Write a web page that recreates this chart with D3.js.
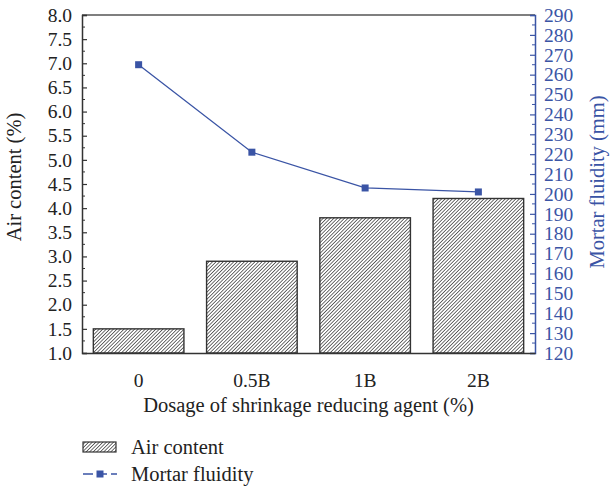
<!DOCTYPE html>
<html>
<head>
<meta charset="utf-8">
<script src="https://cdn.jsdelivr.net/npm/d3@7"></script>
<style>
  html, body { margin: 0; padding: 0; background: #fff; }
  svg text { font-family: "Liberation Serif", "DejaVu Serif", serif; }
</style>
</head>
<body>
<svg id="chart" width="615" height="489"></svg>
<script>
// Dosage categories and the two measured series
const categories = ["0", "0.5B", "1B", "2B"];
const airContent = [1.5, 2.9, 3.8, 4.2];        // %
const mortarFluidity = [265, 221, 203, 201];    // mm

const leftTicks = [1.0, 1.5, 2.0, 2.5, 3.0, 3.5, 4.0, 4.5, 5.0, 5.5, 6.0, 6.5, 7.0, 7.5, 8.0];
const rightTicks = d3.range(120, 291, 10);

const blue = "#3a54a5";
const dark = "#333";
const tickFont = 19.5;
const titleFont = 20.5;

const svg = d3.select("#chart");
const margin = { left: 82, right: 80, top: 15, bottom: 136 };
const W = 615, H = 489;
const x0 = margin.left, x1 = W - margin.right, y0 = H - margin.bottom, y1 = margin.top;

const x = d3.scaleBand().domain(categories).range([x0, x1]).paddingInner(0.2).paddingOuter(0.1);
const yL = d3.scaleLinear().domain([1, 8]).range([y0, y1]);
const yR = d3.scaleLinear().domain([120, 290]).range([y0, y1]);

// Hatch pattern for the bars
const defs = svg.append("defs");
const pat = defs.append("pattern")
  .attr("id", "hatch").attr("patternUnits", "userSpaceOnUse")
  .attr("width", 2.5).attr("height", 2.5)
  .attr("patternTransform", "rotate(45)");
pat.append("rect").attr("width", 2.5).attr("height", 2.5).attr("fill", "#fff");
pat.append("line").attr("x1", 0).attr("y1", 0).attr("x2", 0).attr("y2", 2.5)
  .attr("stroke", "#222").attr("stroke-width", 1.3);

// Bars
svg.append("g").selectAll("rect").data(categories).join("rect")
  .attr("x", d => x(d))
  .attr("width", x.bandwidth())
  .attr("y", (d, i) => yL(airContent[i]))
  .attr("height", (d, i) => y0 - yL(airContent[i]))
  .attr("fill", "url(#hatch)")
  .attr("stroke", dark).attr("stroke-width", 1.4);

// Top frame line
svg.append("line").attr("x1", x0).attr("x2", x1).attr("y1", y1).attr("y2", y1)
  .attr("stroke", "#555").attr("stroke-width", 1.5);

// Left axis (ticks inside)
const leftAxis = d3.axisLeft(yL).tickValues(leftTicks).tickFormat(d3.format(".1f")).tickSize(-5).tickPadding(10);
const gL = svg.append("g").attr("transform", `translate(${x0},0)`).call(leftAxis);
gL.select(".domain").attr("stroke", dark).attr("stroke-width", 1.5);
gL.selectAll(".tick line").attr("stroke", dark).attr("stroke-width", 1.2);
gL.selectAll(".tick text").attr("font-size", tickFont).attr("fill", "#222");
// minor ticks
svg.append("g").selectAll("line").data(d3.range(1.25, 8, 0.5)).join("line")
  .attr("x1", x0).attr("x2", x0 + 3).attr("y1", d => yL(d)).attr("y2", d => yL(d))
  .attr("stroke", dark).attr("stroke-width", 1);

// Right axis (ticks inside)
const rightAxis = d3.axisRight(yR).tickValues(rightTicks).tickSize(-5).tickPadding(9);
const gR = svg.append("g").attr("transform", `translate(${x1},0)`).call(rightAxis);
gR.select(".domain").attr("stroke", blue).attr("stroke-width", 1.5);
gR.selectAll(".tick line").attr("stroke", blue).attr("stroke-width", 1.2);
gR.selectAll(".tick text").attr("font-size", tickFont).attr("fill", blue);
svg.append("g").selectAll("line").data(d3.range(125, 290, 10)).join("line")
  .attr("x1", x1).attr("x2", x1 - 3).attr("y1", d => yR(d)).attr("y2", d => yR(d))
  .attr("stroke", blue).attr("stroke-width", 1);

// Bottom axis
const bottomAxis = d3.axisBottom(x).tickSize(0).tickPadding(20);
const gB = svg.append("g").attr("transform", `translate(0,${y0})`).call(bottomAxis);
gB.select(".domain").attr("stroke", dark).attr("stroke-width", 1.5);
gB.selectAll(".tick text").attr("font-size", tickFont).attr("fill", "#222");

// Fluidity line + markers
const line = d3.line().x((d, i) => x(categories[i]) + x.bandwidth() / 2).y(d => yR(d));
svg.append("path").datum(mortarFluidity).attr("d", line)
  .attr("fill", "none").attr("stroke", blue).attr("stroke-width", 1.3);
svg.append("g").selectAll("rect").data(mortarFluidity).join("rect")
  .attr("x", (d, i) => x(categories[i]) + x.bandwidth() / 2 - 3.5)
  .attr("y", d => yR(d) - 3.5)
  .attr("width", 7).attr("height", 7)
  .attr("fill", blue);

// Axis titles
svg.append("text").attr("transform", `translate(21,${(y0 + y1) / 2 - 7}) rotate(-90)`)
  .attr("text-anchor", "middle").attr("font-size", titleFont).attr("fill", "#222")
  .text("Air content (%)");
svg.append("text").attr("transform", `translate(604,${(y0 + y1) / 2 - 2}) rotate(-90)`)
  .attr("text-anchor", "middle").attr("font-size", titleFont).attr("fill", blue)
  .text("Mortar fluidity (mm)");
svg.append("text").attr("x", (x0 + x1) / 2).attr("y", 412)
  .attr("text-anchor", "middle").attr("font-size", titleFont).attr("fill", "#222")
  .text("Dosage of shrinkage reducing agent (%)");

// Legend
const lg = svg.append("g");
lg.append("rect").attr("x", 83).attr("y", 442).attr("width", 33).attr("height", 10)
  .attr("fill", "url(#hatch)").attr("stroke", dark).attr("stroke-width", 1.2);
lg.append("text").attr("x", 131).attr("y", 454).attr("font-size", titleFont).attr("fill", "#222").text("Air content");
lg.append("line").attr("x1", 83).attr("x2", 117).attr("y1", 474).attr("y2", 474)
  .attr("stroke", blue).attr("stroke-width", 1.3).attr("stroke-dasharray", "10,4");
lg.append("rect").attr("x", 96.5).attr("y", 470.5).attr("width", 7).attr("height", 7).attr("fill", blue);
lg.append("text").attr("x", 131).attr("y", 481).attr("font-size", titleFont).attr("fill", "#222").text("Mortar fluidity");
</script>
</body>
</html>
